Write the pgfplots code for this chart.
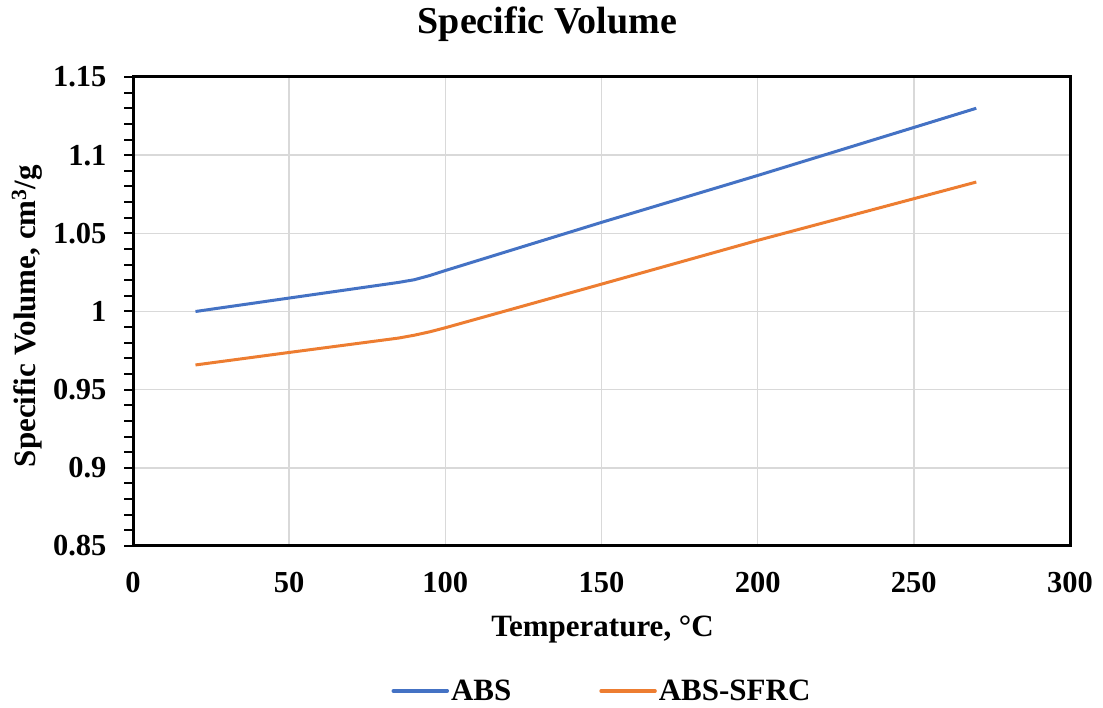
\documentclass[border=0pt]{standalone}
\usepackage{pgfplots}
\pgfplotsset{compat=1.18}
\usepackage{fontspec}
\setmainfont{Liberation Serif}
\definecolor{cblue}{HTML}{4472C4}
\definecolor{corange}{HTML}{ED7D31}
\definecolor{cgrid}{HTML}{D9D9D9}
\begin{document}
\begin{tikzpicture}[x=1pt,y=1pt]
\path[use as bounding box] (0,0) rectangle (1103,708);
\begin{axis}[
  at={(133pt,162pt)}, anchor=south west,
  width=937pt, height=469pt, scale only axis,
  xmin=0, xmax=300, ymin=0.85, ymax=1.15,
  xtick={0,50,...,300}, ytick={0.85,0.9,...,1.151},
  minor y tick num=4,
  xmajorgrids, ymajorgrids,
  grid style={cgrid, line width=1.5pt},
  axis line style={black, line width=3pt},
  xtick style={draw=none},
  ytick style={black, line width=2pt},
  tick align=outside,
  major tick length=9pt, minor tick length=9pt,
  ytick pos=left, xtick pos=bottom,
  every tick label/.append style={font=\fontsize{30.5}{34}\selectfont\bfseries},
  /pgf/number format/assume math mode=true,
  yticklabel style={/pgf/number format/fixed, /pgf/number format/precision=2},
  xticklabel style={yshift=-14pt},
  yticklabel style={xshift=-14pt},
  scaled y ticks=false,
  legend style={at={(0.5005,-0.309)}, anchor=center, draw=none, fill=none,
    legend columns=2, font=\fontsize{31}{34}\selectfont\bfseries,
    /tikz/every even column/.append style={column sep=86pt},
    nodes={inner xsep=2pt}},
  legend image code/.code={\draw[#1, line width=3.5pt, line cap=round] (0pt,0pt) -- (54pt,0pt);},
]
\addplot[cblue, line width=3pt, line join=round] coordinates {
(20,1.0000) (50,1.0086) (85,1.0186) (90,1.0203) (95,1.0230) (100,1.0262) (150,1.0570) (200,1.0870) (270,1.1300)};
\addlegendentry{ABS}
\addplot[corange, line width=3pt, line join=round] coordinates {
(20,0.9658) (50,0.9738) (85,0.9830) (90,0.9848) (95,0.9870) (100,0.9896) (150,1.0175) (200,1.0455) (270,1.0828)};
\addlegendentry{ABS-SFRC}
\end{axis}
\node[font=\fontsize{38}{42}\selectfont\bfseries] at (547.5,684) {Specific Volume};
\node[font=\fontsize{31}{34}\selectfont\bfseries] at (602.5,79) {Temperature, °C};
\node[font=\fontsize{31}{34}\selectfont\bfseries, rotate=90] at (27,392) {Specific Volume, cm\textsuperscript{3}/g};
\end{tikzpicture}
\end{document}
